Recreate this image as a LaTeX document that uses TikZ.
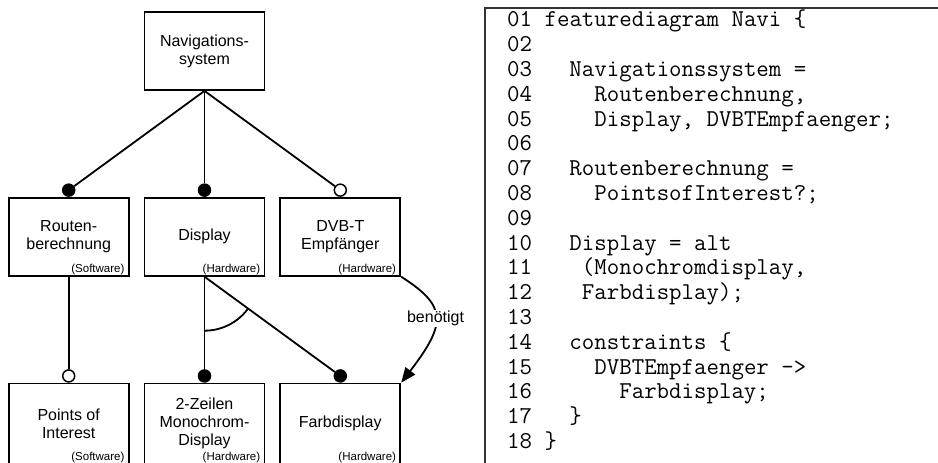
\documentclass[tikz,border=0pt]{standalone}
\usepackage{fontspec}
\setmainfont{Liberation Sans}
\usetikzlibrary{positioning,arrows.meta}

\begin{document}
\begin{tikzpicture}[x=1pt, y=1pt, node distance=106pt and 14pt]
                \tikzset{ feature/.style={rectangle,draw,line width=1.8pt,minimum width=120pt,minimum height=78pt,inner sep=0pt,align=center,font=\fontsize{16}{18}\selectfont},
                        leaf/.style={feature,minimum height=80pt},
                        typ/.style={label={[anchor=south east,inner xsep=5pt,inner ysep=1.5pt,font=\fontsize{11.5}{12}\selectfont]south east:(#1)}},
                        mand/.style={circle,draw,fill=black,line width=1.5pt,minimum size=12pt,inner sep=0pt},
                        opt/.style={mand,fill=white},
                        edge/.style={line width=1.8pt},
                        arrow/.style={-{Triangle[length=15pt,width=12pt]}, line width=1.8pt},
                        code/.style={align=left,inner sep=0pt,font=\ttfamily\fontsize{24.2}{24.8}\selectfont}}
                \useasboundingbox (0,0) rectangle (938,463);

                \node[feature] (navi) at (204.5,412) {Navigations-\\system};
                \node[feature, typ=Hardware, below=of navi] (disp) {Display};
                \node[feature, typ=Software, left=of disp] (rb) {Routen-\\berechnung};
                \node[feature, typ=Hardware, right=of disp] (dvb) {DVB-T\\Empfänger};
                \node[leaf, typ=Hardware, below=of disp] (mono) {2-Zeilen\\Monochrom-\\Display};
                \node[leaf, typ=Software, left=of mono] (poi) {Points of\\Interest};
                \node[leaf, typ=Hardware, right=of mono] (farb) {Farbdisplay};

                % Punkte
                \node[mand, above=0pt of rb] (rb-dot) {};
                \node[mand, above=0pt of disp] (disp-dot) {};
                \node[opt, above=0pt of dvb] (dvb-dot) {};
                \node[opt, above=0pt of poi] (poi-dot) {};
                \node[mand, above=0pt of mono] (mono-dot) {};
                \node[mand, above=0pt of farb] (farb-dot) {};

                % Kanten
                \draw[edge] (navi.south) -- (rb-dot);
                \draw[edge] (navi.south) -- (disp-dot);
                \draw[edge] (navi.south) -- (dvb-dot);
                \draw[edge] (rb.south) -- (poi-dot);
                \draw[edge] (disp.south) -- (mono-dot);
                \draw[edge] (disp.south) -- (farb-dot);
                \draw[edge] ([yshift=-54pt]disp.south) arc[start angle=-90, end angle=-37, radius=54pt];
                \draw[arrow] (dvb.south east) .. controls (447,157) and (447,140) .. (farb.north east)
                        node[pos=0.5, fill=white, inner sep=1pt, font=\fontsize{16}{18}\selectfont] (req) {benötigt};

                % Quelltext
                \draw[line width=1.5pt, black!80] (485,-10) rectangle (950,455);
                \node[code, anchor=base west] (src) at (507,14.4) {01\ featurediagram\ Navi\ \{\\
02\\
03\ \ \ Navigationssystem\ =\\
04\ \ \ \ \ Routenberechnung,\\
05\ \ \ \ \ Display,\ DVBTEmpfaenger;\\
06\\
07\ \ \ Routenberechnung\ =\\
08\ \ \ \ \ PointsofInterest?;\\
09\\
10\ \ \ Display\ =\ alt\\
11\ \ \ \ (Monochromdisplay,\\
12\ \ \ \ Farbdisplay);\\
13\\
14\ \ \ constraints\ \{\\
15\ \ \ \ \ DVBTEmpfaenger\ ->\\
16\ \ \ \ \ \ \ Farbdisplay;\\
17\ \ \ \}\\
18\ \}};
            \end{tikzpicture}
\end{document}
